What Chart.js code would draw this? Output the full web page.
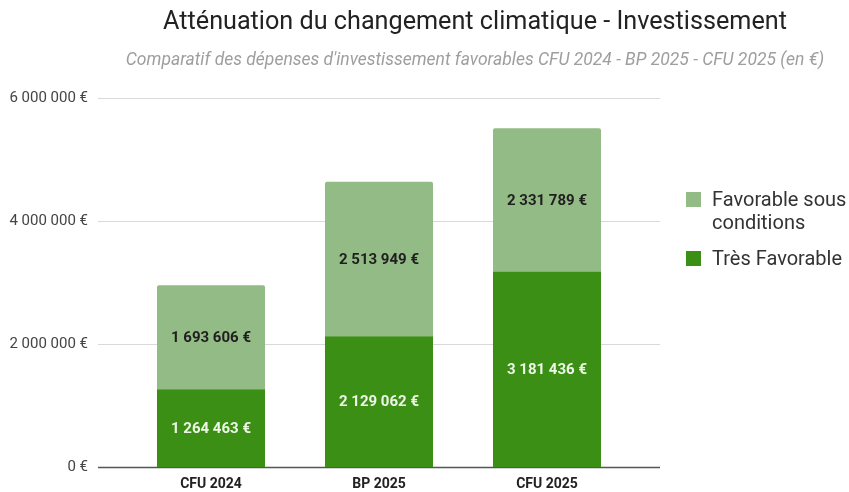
<!DOCTYPE html>
<html>
<head>
<meta charset="utf-8">
<script src="https://cdn.jsdelivr.net/npm/chart.js@4.4.1/dist/chart.umd.min.js"></script>
<style>
  html, body { margin:0; padding:0; background:#fff; overflow:hidden; }
  #wrap { position:relative; width:849px; height:492px; overflow:hidden; }
  #chart { display:block; position:absolute; left:0; top:0; }
  #legend { position:absolute; left:686px; top:188px; font-family:Roboto, sans-serif; font-size:20px; color:#333; }
  #legend .item { display:flex; align-items:flex-start; margin-bottom:13px; line-height:23px; }
  #legend .sw { width:15px; height:15px; margin:4px 11px 0 0; flex:none; }
</style>
</head>
<body>
<div id="wrap">
  <canvas id="chart" width="950" height="492"></canvas>
  <div id="legend">
    <div class="item"><span class="sw" style="background:#93bb85"></span><span>Favorable sous<br>conditions</span></div>
    <div class="item"><span class="sw" style="background:#3a8f14"></span><span>Très Favorable</span></div>
  </div>
</div>
<script>
// Data
const categories = ["CFU 2024", "BP 2025", "CFU 2025"];
const tresFavorable = [1264463, 2129062, 3181436];
const sousConditions = [1693606, 2513949, 2331789];
const yTicks = [0, 2000000, 4000000, 6000000];

const fmtEuro = v => v.toLocaleString('fr-FR').replace(/[\u202f\u00a0]/g, ' ') + ' €';

// grid lines run a bit wider than the bars area
const gridPlugin = {
  id: 'wideGrid',
  beforeDatasetsDraw(chart) {
    const y = chart.scales.y, ctx = chart.ctx;
    ctx.save();
    yTicks.forEach(t => {
      const py = Math.round(y.getPixelForValue(t)) + 0.5;
      ctx.strokeStyle = t === 0 ? '#555' : '#d9d9d9';
      ctx.lineWidth = t === 0 ? 1.5 : 1;
      ctx.beginPath();
      ctx.moveTo(98, py);
      ctx.lineTo(660, py);
      ctx.stroke();
    });
    ctx.restore();
  }
};

// value labels in the middle of each segment
const labelPlugin = {
  id: 'segLabels',
  afterDatasetsDraw(chart) {
    const ctx = chart.ctx;
    ctx.save();
    ctx.font = 'bold 15px Roboto';
    ctx.textAlign = 'center';
    ctx.textBaseline = 'middle';
    chart.data.datasets.forEach((ds, di) => {
      const meta = chart.getDatasetMeta(di);
      meta.data.forEach((bar, i) => {
        ctx.fillStyle = di === 0 ? '#eef6e8' : '#1f1f1f';
        ctx.fillText(fmtEuro(ds.data[i]), bar.x, (bar.y + bar.base) / 2 + 1);
      });
    });
    ctx.restore();
  }
};

new Chart(document.getElementById('chart'), {
  type: 'bar',
  data: {
    labels: categories,
    datasets: [
      { label: 'Très Favorable', data: tresFavorable, backgroundColor: '#3a8f14', barPercentage: 0.643, categoryPercentage: 1 },
      { label: 'Favorable sous conditions', data: sousConditions, backgroundColor: '#93bb85', barPercentage: 0.643, categoryPercentage: 1,
        borderRadius: { topLeft: 2, topRight: 2 }, borderSkipped: 'bottom' }
    ]
  },
  options: {
    responsive: false,
    animation: false,
    layout: { padding: 0 },
    plugins: {
      legend: { display: false },
      tooltip: { enabled: false },
      title: {
        display: true,
        text: 'Atténuation du changement climatique - Investissement',
        color: '#222',
        font: { family: 'Roboto', size: 25.2, weight: 'normal' },
        padding: { top: 8, bottom: 6 }
      },
      subtitle: {
        display: true,
        text: "Comparatif des dépenses d'investissement favorables CFU 2024 - BP 2025 - CFU 2025 (en €)",
        color: '#9e9e9e',
        font: { family: 'Roboto', size: 17.5, style: 'italic' },
        padding: { top: 6, bottom: 27 }
      }
    },
    scales: {
      x: {
        stacked: true,
        grid: { display: false },
        border: { display: false },
        ticks: { color: '#222', font: { family: 'Roboto', size: 14, weight: 'bold' }, padding: 1 },
        afterFit(s) { s.height = 25; }
      },
      y: {
        stacked: true,
        min: 0, max: 6000000,
        grid: { display: false },
        border: { display: false },
        afterBuildTicks(s) { s.ticks = yTicks.map(v => ({ value: v })); },
        ticks: { color: '#444', font: { family: 'Roboto', size: 15 }, padding: 31, callback: v => fmtEuro(v) },
        afterFit(s) { s.width = 127; s.paddingTop = 0; s.paddingBottom = 0; }
      },
      yR: {
        position: 'right',
        display: true,
        grid: { display: false },
        border: { display: false },
        ticks: { display: false },
        afterFit(s) { s.width = 319; }
      }
    }
  },
  plugins: [gridPlugin, labelPlugin]
});
</script>
</body>
</html>
